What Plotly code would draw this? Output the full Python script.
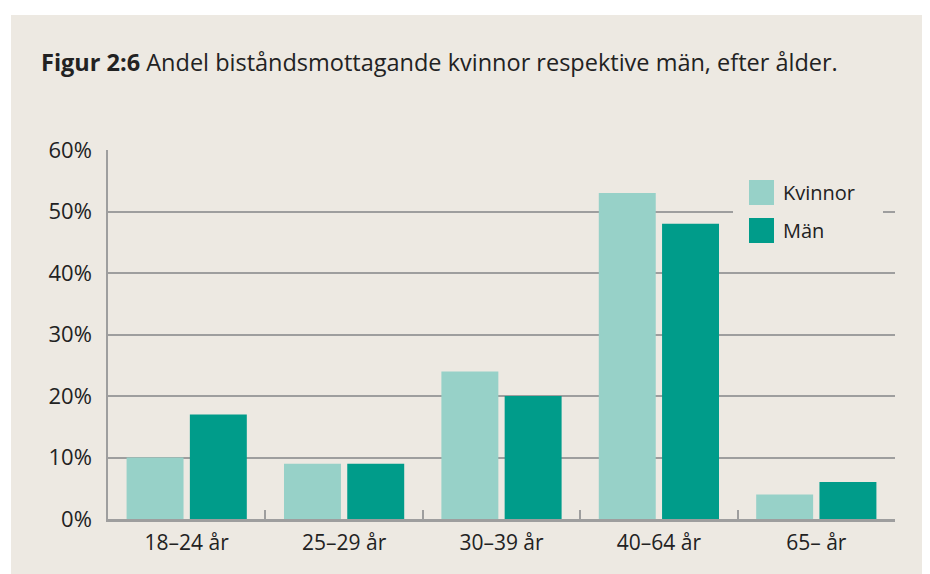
import plotly.graph_objects as go

categories = ["18–24 år", "25–29 år", "30–39 år", "40–64 år", "65– år"]
kvinnor = [10, 9, 24, 53, 4]
man = [17, 9, 20, 48, 6]
series_names = ["Kvinnor", "Män"]
y_ticks = [0, 10, 20, 30, 40, 50, 60]
y_ticklabels = [f"{v}%" for v in y_ticks]

C_K = "#97D1C8"
C_M = "#009C8A"
BEIGE = "#EDE9E2"
GRID = "#9E9E9E"
TXT = "#222222"
FONT = "Open Sans"

# page has an 8px body margin; figure sized so it ends at the window edge
OFF = 8
W, H = 930 - OFF, 574 - OFF
L, R, T, B = 108 - OFF, 35, 150 - OFF, 55
pw, ph = W - L - R, H - T - B

def px(x):
    return (x - OFF - L) / pw

def py(y):
    return (H - B - (y - OFF)) / ph

fig = go.Figure()
fig.add_trace(go.Bar(x=categories, y=kvinnor, name=series_names[0], marker_color=C_K,
                     marker_line_width=0, showlegend=False))
fig.add_trace(go.Bar(x=categories, y=man, name=series_names[1], marker_color=C_M,
                     marker_line_width=0, showlegend=False))

shapes = [
    dict(type="rect", xref="paper", yref="paper", x0=px(11), x1=px(935), y0=py(580), y1=py(15),
         fillcolor=BEIGE, line_width=0, layer="below"),
    dict(type="rect", xref="paper", yref="paper", x0=px(733), x1=px(883), y0=py(255), y1=py(168),
         fillcolor=BEIGE, line_width=0, layer="above"),
    dict(type="rect", xref="paper", yref="paper", x0=px(749), x1=px(774), y0=py(205), y1=py(180),
         fillcolor=C_K, line_width=0, layer="above"),
    dict(type="rect", xref="paper", yref="paper", x0=px(749), x1=px(774), y0=py(243), y1=py(218),
         fillcolor=C_M, line_width=0, layer="above"),
]

annotations = [
    dict(xref="paper", yref="paper", x=px(39), y=py(62), xanchor="left", yanchor="middle",
         text="<b>Figur 2:6</b> Andel biståndsmottagande kvinnor respektive män, efter ålder.",
         showarrow=False, font=dict(family=FONT, size=23.5, color=TXT)),
    dict(xref="paper", yref="paper", x=px(781), y=py(192), xanchor="left", yanchor="middle",
         text=series_names[0], showarrow=False, font=dict(family=FONT, size=20, color=TXT)),
    dict(xref="paper", yref="paper", x=px(781), y=py(230), xanchor="left", yanchor="middle",
         text=series_names[1], showarrow=False, font=dict(family=FONT, size=20, color=TXT)),
]

fig.update_layout(
    width=W, height=H,
    margin=dict(l=L, r=R, t=T, b=B, pad=0),
    paper_bgcolor="white", plot_bgcolor=BEIGE,
    barmode="group", bargap=0.196, bargroupgap=0.1,
    shapes=shapes, annotations=annotations,
    showlegend=False,
    font=dict(family=FONT, color=TXT),
)
fig.update_xaxes(
    type="category", range=[-0.5, 4.5],
    showgrid=False, showline=True, linecolor=GRID, linewidth=2.5,
    ticks="inside", tickson="boundaries", ticklen=9, tickwidth=2, tickcolor=GRID,
    tickfont=dict(family=FONT, size=21, color=TXT), ticklabelstandoff=3,
    fixedrange=True,
)
fig.update_yaxes(
    range=[0, 60], tickvals=y_ticks, ticktext=y_ticklabels,
    showgrid=True, gridcolor=GRID, gridwidth=1.5,
    showline=True, linecolor=GRID, linewidth=1.5, zeroline=False,
    ticks="", tickfont=dict(family=FONT, size=22, color=TXT), ticklabelstandoff=10,
    fixedrange=True,
)

fig.write_html("out.html")
